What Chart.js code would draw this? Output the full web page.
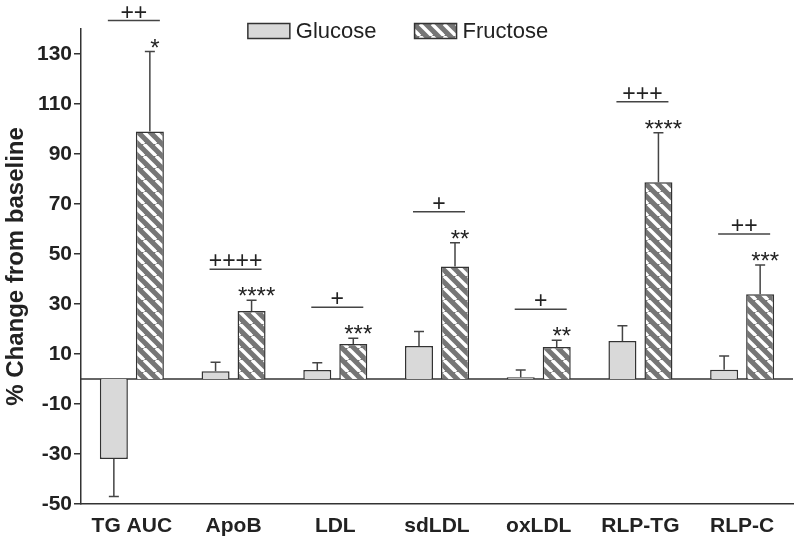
<!DOCTYPE html>
<html>
<head>
<meta charset="utf-8">
<script src="https://cdn.jsdelivr.net/npm/chart.js@4/dist/chart.umd.min.js"></script>
<style>
html,body{margin:0;padding:0;background:#fff;}
#wrap{width:800px;height:544px;position:relative;}
</style>
</head>
<body>
<div id="wrap"><canvas id="c" width="800" height="544"></canvas></div>
<script>
const categories = ['TG AUC', 'ApoB', 'LDL', 'sdLDL', 'oxLDL', 'RLP-TG', 'RLP-C'];
const glucose = [-32, 3.1, 3.6, 13.2, 0.7, 15.2, 3.7];
const glucoseErr = [15, 3.6, 2.9, 5.8, 2.9, 6.1, 5.5];
const fructose = [99, 27.2, 14, 45, 12.8, 78.7, 33.9];
const fructoseErr = [32, 4.3, 2.3, 9.5, 2.7, 19.8, 11.7];
const stars = ['*', '****', '***', '**', '**', '****', '***'];
const plusMarks = ['++', '++++', '+', '+', '+', '+++', '++'];
const yTicks = [-50, -30, -10, 10, 30, 50, 70, 90, 110, 130];

const INK = '#333333';
const FONT = '"Liberation Sans", Arial, sans-serif';

function makeStripePattern() {
  const s = 12;
  const c = document.createElement('canvas');
  c.width = s; c.height = s;
  const g = c.getContext('2d');
  g.fillStyle = '#767676';
  g.fillRect(0, 0, s, s);
  g.strokeStyle = '#ffffff';
  g.lineWidth = 3.4;
  for (const o of [-s, 0, s]) {
    g.beginPath();
    g.moveTo(o, 0);
    g.lineTo(o + s, s);
    g.stroke();
  }
  return g.createPattern(c, 'repeat');
}
const stripes = makeStripePattern();

const errs = [glucoseErr, fructoseErr];

const annotPlugin = {
  id: 'annot',
  beforeDatasetsDraw(chart) {
    const {ctx, chartArea, scales: {y}} = chart;
    const y0 = y.getPixelForValue(0);
    ctx.save();
    ctx.strokeStyle = INK;
    ctx.lineWidth = 1.5;
    ctx.beginPath();
    ctx.moveTo(chartArea.left, y0);
    ctx.lineTo(chartArea.right, y0);
    ctx.stroke();
    ctx.restore();
  },
  afterDatasetsDraw(chart) {
    const {ctx, scales: {y}} = chart;
    ctx.save();
    ctx.strokeStyle = '#444';
    ctx.lineWidth = 1.5;
    chart.data.datasets.forEach((ds, di) => {
      const meta = chart.getDatasetMeta(di);
      meta.data.forEach((bar, i) => {
        const v = ds.data[i];
        const e = errs[di][i];
        const end = v >= 0 ? v + e : v - e;
        const py1 = y.getPixelForValue(v);
        const py2 = y.getPixelForValue(end);
        ctx.beginPath();
        ctx.moveTo(bar.x, py1);
        ctx.lineTo(bar.x, py2);
        ctx.moveTo(bar.x - 5, py2);
        ctx.lineTo(bar.x + 5, py2);
        ctx.stroke();
      });
    });
    // significance marks
    const gMeta = chart.getDatasetMeta(0);
    const fMeta = chart.getDatasetMeta(1);
    ctx.fillStyle = '#222';
    ctx.textAlign = 'center';
    ctx.textBaseline = 'alphabetic';
    fMeta.data.forEach((bar, i) => {
      const cap = y.getPixelForValue(fructose[i] + fructoseErr[i]);
      ctx.font = '24px ' + FONT;
      ctx.fillText(stars[i], bar.x + 5, cap + 4);
      const gBar = gMeta.data[i];
      const lineY = cap - 31;
      const x1 = gBar.x - 6;
      const x2 = bar.x + 10;
      ctx.beginPath();
      ctx.moveTo(x1, lineY);
      ctx.lineTo(x2, lineY);
      ctx.stroke();
      ctx.font = '23px ' + FONT;
      ctx.fillText(plusMarks[i], (x1 + x2) / 2, lineY - 1);
    });
    ctx.restore();
  },
  afterDraw(chart) {
    const {ctx} = chart;
    ctx.save();
    ctx.font = '22px ' + FONT;
    const boxW = 42, boxH = 15, gap = 6, spacing = 38;
    const items = chart.data.datasets.map(ds => ({label: ds.label, fill: ds.backgroundColor}));
    let total = 0;
    items.forEach((it, k) => {
      it.tw = ctx.measureText(it.label).width;
      total += boxW + gap + it.tw + (k < items.length - 1 ? spacing : 0);
    });
    let x = chart.width / 2 - total / 2 - 2;
    const cy = 31;
    items.forEach(it => {
      ctx.fillStyle = it.fill;
      ctx.fillRect(x, cy - boxH / 2, boxW, boxH);
      ctx.strokeStyle = INK;
      ctx.lineWidth = 1.5;
      ctx.strokeRect(x, cy - boxH / 2, boxW, boxH);
      ctx.fillStyle = '#222';
      ctx.textAlign = 'left';
      ctx.textBaseline = 'middle';
      ctx.fillText(it.label, x + boxW + gap, cy + 1);
      x += boxW + gap + it.tw + spacing;
    });
    ctx.restore();
  }
};

new Chart(document.getElementById('c'), {
  type: 'bar',
  data: {
    labels: categories,
    datasets: [
      {label: 'Glucose', data: glucose, backgroundColor: '#d9d9d9', borderColor: INK, borderWidth: 1.5,
       categoryPercentage: 0.708, barPercentage: 0.778},
      {label: 'Fructose', data: fructose, backgroundColor: stripes, borderColor: INK, borderWidth: 1.5,
       categoryPercentage: 0.708, barPercentage: 0.778}
    ]
  },
  options: {
    responsive: false,
    animation: false,
    devicePixelRatio: 1,
    layout: {padding: {left: 0, top: 29, right: 7, bottom: 0}},
    plugins: {legend: {display: false}, tooltip: {enabled: false}},
    scales: {
      x: {
        grid: {display: true, drawOnChartArea: false, drawTicks: false},
        border: {display: true, color: INK, width: 1.5},
        ticks: {color: '#222', font: {family: FONT, size: 21, weight: 'bold'}, padding: 10, maxRotation: 0},
        afterFit: s => { s.height = 40; }
      },
      y: {
        min: -50, max: 140,
        afterBuildTicks: s => { s.ticks = yTicks.map(v => ({value: v})); },
        grid: {drawOnChartArea: false, drawTicks: true, tickLength: 7, color: INK, lineWidth: 1.5},
        border: {display: true, color: INK, width: 1.5},
        ticks: {color: '#222', font: {family: FONT, size: 21, weight: 'bold'}, padding: 2},
        title: {display: true, text: '% Change from baseline', color: '#222',
                font: {family: FONT, size: 24, weight: 'bold'}, padding: {top: 2, bottom: 0}},
        afterFit: s => { s.width = 81; }
      }
    }
  },
  plugins: [annotPlugin]
});
</script>
</body>
</html>
